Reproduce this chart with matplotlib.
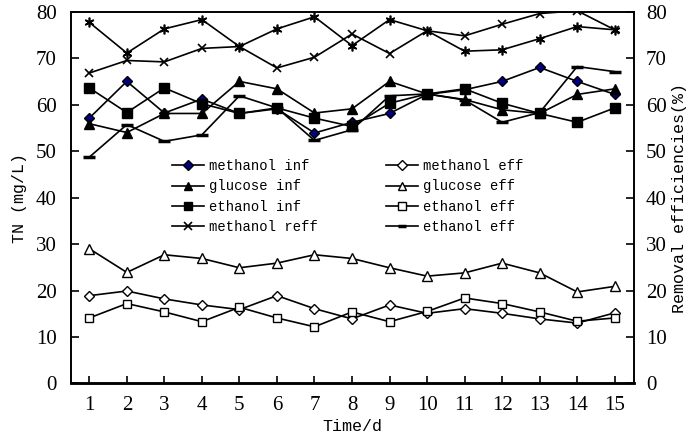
import matplotlib
matplotlib.use('Agg')
import matplotlib.pyplot as plt

days = list(range(1, 16))

# TN concentrations (mg/L), left axis
methanol_inf = [57.1, 65.0, 58.2, 61.2, 58.1, 59.1, 53.9, 56.2, 58.1, 62.2, 63.2, 65.0, 68.0, 65.0, 62.2]
glucose_inf = [55.9, 54.0, 58.1, 58.1, 65.0, 63.4, 58.2, 59.1, 65.0, 62.3, 61.1, 58.9, 58.1, 62.2, 63.4]
ethanol_inf = [63.6, 58.3, 63.6, 60.2, 58.1, 59.3, 57.1, 55.3, 60.3, 62.3, 63.4, 60.3, 58.1, 56.2, 59.3]
methanol_eff = [18.9, 19.9, 18.2, 16.9, 15.9, 18.9, 16.1, 13.9, 16.9, 15.1, 16.1, 15.1, 13.9, 13.0, 15.2]
glucose_eff = [29.0, 23.9, 27.7, 26.9, 24.9, 25.9, 27.7, 26.9, 24.9, 23.1, 23.8, 25.9, 23.8, 19.7, 20.9]
ethanol_eff = [14.1, 17.2, 15.4, 13.3, 16.4, 14.1, 12.2, 15.4, 13.3, 15.5, 18.4, 17.2, 15.4, 13.4, 14.1]

# removal efficiencies (%), right axis
methanol_reff = [66.8, 69.5, 69.2, 72.1, 72.5, 67.9, 70.2, 75.2, 71.0, 75.9, 74.8, 77.3, 79.6, 80.2, 76.1]
glucose_reff = [77.7, 71.1, 76.3, 78.3, 72.5, 76.3, 78.9, 72.7, 78.3, 75.9, 71.5, 71.8, 74.2, 76.8, 76.1]
ethanol_reff = [48.7, 55.7, 52.1, 53.5, 61.9, 59.3, 52.3, 54.6, 61.9, 62.3, 61.0, 56.2, 58.3, 68.2, 67.1]

mono = 'Liberation Mono'
serif = 'Liberation Serif'

fig = plt.figure(figsize=(6.88, 4.41), dpi=100)
ax = fig.add_axes([0.1025, 0.1304, 0.8183, 0.8431])
ax2 = ax.twinx()

lw = 1.2
ms = 7
h1, = ax.plot(days, methanol_inf, color='black', lw=lw, marker='D', ms=5.5,
              mfc='#000080', mec='black', label='methanol inf')
h2, = ax.plot(days, glucose_inf, color='black', lw=lw, marker='^', ms=ms,
              mfc='black', label='glucose inf')
h3, = ax.plot(days, ethanol_inf, color='black', lw=lw, marker='s', ms=6.5,
              mfc='black', label='ethanol inf')
h5, = ax.plot(days, methanol_eff, color='black', lw=lw, marker='D', ms=5.5,
              mfc='white', mec='black', label='methanol eff')
h6, = ax.plot(days, glucose_eff, color='black', lw=lw, marker='^', ms=ms,
              mfc='white', mec='black', label='glucose eff')
h7, = ax.plot(days, ethanol_eff, color='black', lw=lw, marker='s', ms=6,
              mfc='white', mec='black', label='ethanol eff')

h4, = ax2.plot(days, methanol_reff, color='black', lw=lw, marker='x', ms=6,
               mew=1.2, label='methanol reff')
ax2.plot(days, glucose_reff, color='black', lw=lw, marker=(6, 2, 0), ms=7, mew=1.2)
h8, = ax2.plot(days, ethanol_reff, color='black', lw=lw, marker='_', ms=9,
               mew=2.5, label='ethanol eff')

for a in (ax, ax2):
    a.set_xlim(0.5, 15.5)
    a.set_ylim(0, 80)
    a.set_yticks(range(0, 81, 10))
    for s in a.spines.values():
        s.set_linewidth(1.2)
    a.spines['bottom'].set_linewidth(1.8)

ax.set_xticks(days)
ax.tick_params(axis='x', direction='in', length=5, width=1.2, pad=9, labelsize=15)
ax.tick_params(axis='y', direction='in', length=6, width=1.2, pad=10, labelsize=15)
ax2.tick_params(axis='y', direction='in', length=6, width=1.2, pad=9, labelsize=15)
for lab in ax.get_xticklabels() + ax.get_yticklabels() + ax2.get_yticklabels():
    lab.set_fontfamily(serif)

ax.set_xlabel('Time/d', fontfamily=mono, fontsize=12, labelpad=3)
ax.set_ylabel('TN (mg/L)', fontfamily=mono, fontsize=12, labelpad=6)
ax2.set_ylabel('Removal efficiencies(%)', fontfamily=mono, fontsize=12, labelpad=4)

leg = ax.legend([h1, h2, h3, h4, h5, h6, h7, h8],
                ['methanol inf', 'glucose inf', 'ethanol inf', 'methanol reff',
                 'methanol eff', 'glucose eff', 'ethanol eff', 'ethanol eff'],
                ncol=2, frameon=False, loc='upper left', bbox_to_anchor=(0.168, 0.622),
                prop={'family': mono, 'size': 10}, handlelength=2.3,
                handletextpad=0.36, columnspacing=4.9, labelspacing=0.45, borderpad=0)
for h in leg.legend_handles:
    h.set_markersize(5.5)

fig.savefig('out.png', dpi=100)
